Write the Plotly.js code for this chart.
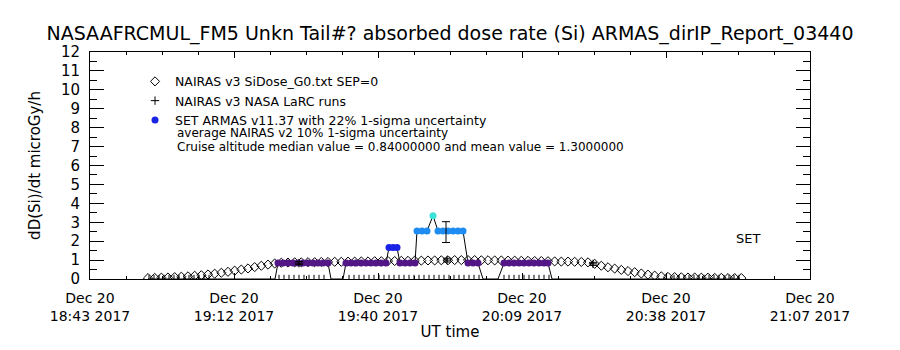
<!DOCTYPE html>
<html>
<head>
<meta charset="utf-8">
<script src="https://cdn.plot.ly/plotly-3.0.1.min.js"></script>
<style>html,body{margin:0;padding:0;background:#fff;}#chart{width:900px;height:350px;}</style>
</head>
<body>
<div id="chart"></div>
<script>
// ---------- DATA ----------
const DAY = '2017-12-20 ';
// x-axis ticks
const tickTimes = ['18:43:12','19:12:00','19:40:48','20:09:36','20:38:24','21:07:12'];
const tickLabels = ['Dec 20<br>18:43 2017','Dec 20<br>19:12 2017','Dec 20<br>19:40 2017','Dec 20<br>20:09 2017','Dec 20<br>20:38 2017','Dec 20<br>21:07 2017'];

// NAIRAS v3 SiDose_G0.txt SEP=0 (diamonds)
const nairasTime = ['18:54:48','18:56:08','18:57:28','18:58:48','19:00:08','19:01:28','19:02:48','19:04:08','19:05:28','19:06:48',
 '19:08:08','19:09:28','19:10:48','19:12:08','19:13:28','19:14:48','19:16:08','19:17:28','19:18:48','19:20:08',
 '19:21:28','19:22:48','19:24:08','19:25:28','19:26:48','19:28:08','19:29:28','19:30:48','19:32:08','19:33:28',
 '19:34:48','19:36:08','19:37:28','19:38:48','19:40:08','19:41:28','19:42:48','19:44:08','19:45:28','19:46:48',
 '19:48:08','19:49:28','19:50:48','19:52:08','19:53:28','19:54:48','19:56:08','19:57:28','19:58:48','20:00:08',
 '20:01:28','20:02:48','20:04:08','20:05:28','20:06:48','20:08:08','20:09:28','20:10:48','20:12:08','20:13:28',
 '20:14:48','20:16:08','20:17:28','20:18:48','20:20:08','20:21:28','20:22:48','20:24:08','20:25:28','20:26:48',
 '20:28:08','20:29:28','20:30:48','20:32:08','20:33:28','20:34:48','20:36:08','20:37:28','20:38:48','20:40:08',
 '20:41:28','20:42:48','20:44:08','20:45:28','20:46:48','20:48:08','20:49:28','20:50:48','20:52:08','20:53:28'];
const nairasDose = [0.05,0.06,0.07,0.08,0.10,0.12,0.14,0.17,0.20,0.24,
 0.28,0.33,0.38,0.44,0.50,0.56,0.63,0.70,0.76,0.82,
 0.86,0.87,0.88,0.88,0.89,0.89,0.90,0.90,0.91,0.91,
 0.92,0.92,0.93,0.93,0.94,0.94,0.95,0.95,0.96,0.96,
 0.97,0.97,0.98,0.98,0.99,0.99,1.00,1.00,1.00,1.00,
 0.99,0.99,0.98,0.98,0.97,0.97,0.96,0.96,0.95,0.95,
 0.94,0.93,0.92,0.92,0.91,0.90,0.88,0.80,0.70,0.62,
 0.55,0.48,0.42,0.36,0.29,0.23,0.18,0.14,0.11,0.10,
 0.09,0.08,0.08,0.07,0.07,0.06,0.06,0.05,0.05,0.05];

// NAIRAS v3 NASA LaRC runs with 10% uncertainty
const larcTime = ['19:25:00','19:54:36','20:23:48'];
const larcDose = [0.84, 1.00, 0.80];
const larcErr = [0.084, 0.10, 0.08];

// SET ARMAS v11.37 measurements
const armasTime = ['18:54:48','19:20:12',
 '19:20:48','19:21:48','19:22:48','19:23:48','19:24:48','19:25:48','19:26:48','19:27:48','19:28:48','19:29:48','19:30:48',
 '19:31:24','19:33:48',
 '19:34:24','19:35:24','19:36:24','19:37:24','19:38:24','19:39:24','19:40:24','19:41:24','19:42:24',
 '19:43:00','19:43:48','19:44:36',
 '19:45:12','19:46:12','19:47:12','19:48:12',
 '19:48:36','19:49:36','19:50:36',
 '19:51:48',
 '19:52:48','19:53:48','19:54:48','19:55:48','19:56:48','19:57:48',
 '19:58:48','19:59:48','20:00:48',
 '20:01:48','20:04:48',
 '20:06:00','20:07:00','20:08:00','20:09:00','20:10:00','20:11:00','20:12:00','20:13:00','20:14:00','20:14:48',
 '20:15:36','20:53:12'];
const armasDose = [0,0,
 0.84,0.84,0.84,0.84,0.84,0.84,0.84,0.84,0.84,0.84,0.84,
 0,0,
 0.84,0.84,0.84,0.84,0.84,0.84,0.84,0.84,0.84,
 1.66,1.66,1.66,
 0.84,0.84,0.84,0.84,
 2.54,2.54,2.54,
 3.35,
 2.54,2.54,2.54,2.54,2.54,2.54,
 0.84,0.84,0.84,
 0,0,
 0.84,0.84,0.84,0.84,0.84,0.84,0.84,0.84,0.84,0.84,
 0,0];
// ARMAS representative 22% 1-sigma uncertainty bar
const armasErrTime = ['19:54:24'];
const armasErrDose = [2.48];
const armasErr = [0.55];

// small sample marks on the baseline
const baseTickTime = ['18:55','18:56','18:57','18:58','18:59','19:00','19:01','19:02','19:03','19:04','19:05','19:06','19:07',
 '19:21','19:22','19:23','19:24','19:25','19:26','19:27','19:28','19:29','19:30',
 '19:35','19:36','19:37','19:38','19:39','19:40','19:41','19:42','19:43','19:44','19:45','19:46','19:47','19:48','19:49',
 '19:50','19:51','19:52','19:53','19:54','19:55','19:56','19:57','19:58','19:59','20:00','20:01',
 '20:06','20:07','20:08','20:09','20:10','20:11','20:12','20:13','20:14','20:15',
 '20:40','20:41','20:42','20:43','20:44','20:45','20:46','20:47','20:48','20:49','20:50','20:51','20:52','20:53'];
const baseTickDose = baseTickTime.map(() => 0);

// ---------- BUILD ----------
const D = t => DAY + (t.length === 5 ? t + ':00' : t);
const FONT = 'DejaVu Sans, Liberation Sans, Arial, sans-serif';
const classes = [
  {name:'purple', color:'rgb(82,22,135)', test:v => v > 0 && v < 1.2},
  {name:'SET ARMAS v11.37 with 22% 1-sigma uncertainty', color:'rgb(25,35,230)', test:v => v >= 1.2 && v < 2.0, legend:true},
  {name:'lightblue', color:'rgb(30,140,240)', test:v => v >= 2.0 && v < 3.0},
  {name:'cyan', color:'rgb(60,225,215)', test:v => v >= 3.0}
];

const traces = [];
traces.push({
  x: nairasTime.map(D), y: nairasDose, type:'scatter', mode:'markers',
  name:'NAIRAS v3 SiDose_G0.txt SEP=0', legendrank:1,
  marker:{symbol:'diamond-open', size:7, color:'black', line:{width:1, color:'black'}}
});
traces.push({
  x: armasTime.map(D), y: armasDose, type:'scatter', mode:'lines', showlegend:false,
  line:{color:'black', width:1}
});
traces.push({
  x: baseTickTime.map(D), y: baseTickDose, type:'scatter', mode:'markers', showlegend:false,
  marker:{symbol:'line-ns-open', size:6, color:'black', line:{width:1, color:'black'}}
});
classes.forEach(c => {
  const xs = [], ys = [];
  armasTime.forEach((t, i) => { if (c.test(armasDose[i])) { xs.push(D(t)); ys.push(armasDose[i]); } });
  traces.push({
    x: xs, y: ys, type:'scatter', mode:'markers', name:c.name,
    showlegend: !!c.legend, legendrank:3,
    marker:{symbol:'circle', size:7, color:c.color, line:{width:0}}
  });
});
traces.push({
  x: larcTime.map(D), y: larcDose, type:'scatter', mode:'markers',
  name:'NAIRAS v3 NASA LaRC runs', legendrank:2,
  marker:{symbol:'cross-thin-open', size:6, color:'black', line:{width:1, color:'black'}},
  error_y:{type:'data', array:larcErr, visible:true, color:'black', thickness:1, width:4}
});
traces.push({
  x: armasErrTime.map(D), y: armasErrDose, type:'scatter', mode:'markers', showlegend:false,
  marker:{size:1, color:'rgba(0,0,0,0)'},
  error_y:{type:'data', array:armasErr, visible:true, color:'black', thickness:1, width:4}
});

const layout = {
  width:900, height:350,
  margin:{l:90, r:90, t:52, b:71},
  paper_bgcolor:'white', plot_bgcolor:'white',
  font:{family:FONT, color:'black'},
  title:{text:'NASAAFRCMUL_FM5 Unkn Tail#? absorbed dose rate (Si) ARMAS_dirIP_Report_03440',
         font:{size:19, family:FONT, color:'black'}, x:0.5, xanchor:'center', y:1-33/350, yanchor:'middle', yref:'container'},
  showlegend:true,
  legend:{x:0.0625, xanchor:'left', y:0.935, yanchor:'top', bgcolor:'rgba(0,0,0,0)', borderwidth:0,
          font:{size:12.5, family:FONT, color:'black'}, itemwidth:30, traceorder:'normal'},
  xaxis:{
    type:'date', range:[D(tickTimes[0]), D(tickTimes[tickTimes.length-1])],
    tickmode:'array', tickvals:tickTimes.map(D), ticktext:tickLabels,
    ticks:'inside', ticklen:6, tickcolor:'black', tickwidth:1,
    showline:true, linecolor:'black', linewidth:1, mirror:'ticks',
    showgrid:false, zeroline:false, ticklabelstandoff:6,
    tickfont:{size:14, family:FONT, color:'black'},
    minor:{tickmode:'linear', tick0:D(tickTimes[0]), dtick:432000, ticks:'inside', ticklen:3, tickcolor:'black', showgrid:false},
    title:{text:'UT time', font:{size:15, family:FONT, color:'black'}, standoff:3}
  },
  yaxis:{
    range:[0,12], tickmode:'linear', tick0:0, dtick:1,
    ticks:'inside', ticklen:14, tickcolor:'black', tickwidth:1,
    showline:true, linecolor:'black', linewidth:1, mirror:'ticks',
    showgrid:false, zeroline:false, ticklabelstandoff:6,
    tickfont:{size:15, family:FONT, color:'black'},
    minor:{tickmode:'linear', tick0:0.5, dtick:1, ticks:'inside', ticklen:7, tickcolor:'black', showgrid:false},
    title:{text:'dD(Si)/dt microGy/h', font:{size:15, family:FONT, color:'black'}, standoff:16}
  },
  annotations:[
    {xref:'paper', yref:'paper', x:(175-90)/720, y:(279-133)/227, xanchor:'left', yanchor:'middle', showarrow:false,
     text:'average NAIRAS v2 10% 1-sigma uncertainty', font:{size:12, family:FONT, color:'black'}},
    {xref:'paper', yref:'paper', x:(175-90)/720, y:(279-147)/227, xanchor:'left', yanchor:'middle', showarrow:false,
     text:'Cruise altitude median value = 0.84000000 and mean value = 1.3000000', font:{size:12, family:FONT, color:'black'}},
    {xref:'paper', yref:'paper', x:(748-90)/720, y:(279-238)/227, xanchor:'center', yanchor:'middle', showarrow:false,
     text:'SET', font:{size:13, family:FONT, color:'black'}}
  ]
};

Plotly.newPlot('chart', traces, layout, {displayModeBar:false, staticPlot:true});
</script>
</body>
</html>
